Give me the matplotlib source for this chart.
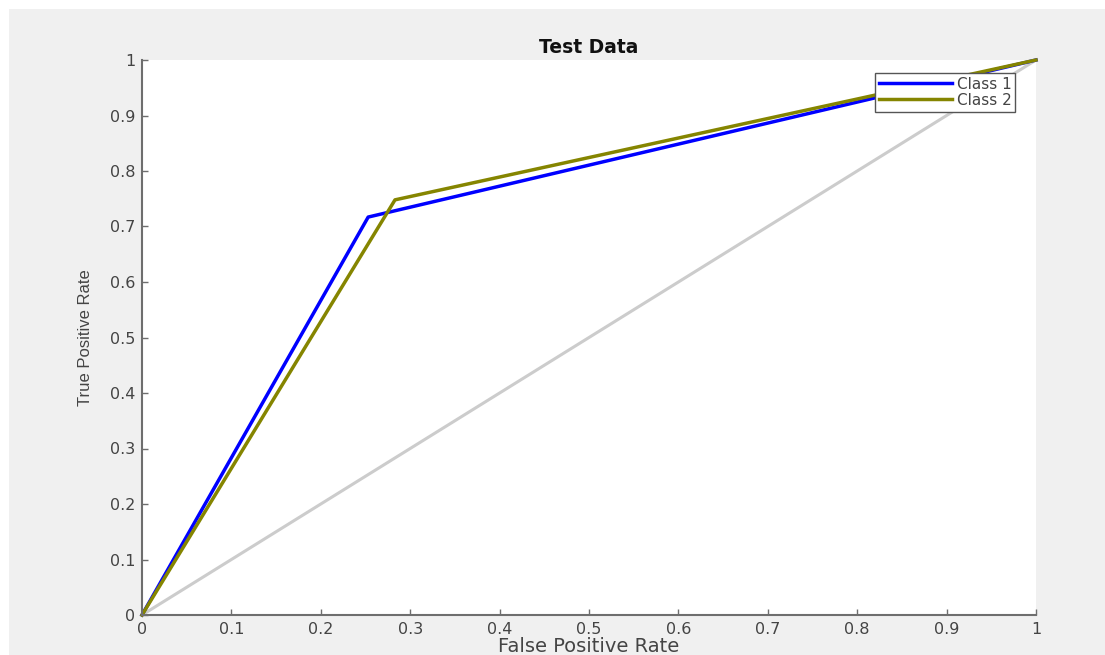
import numpy as np
import matplotlib
matplotlib.use("Agg")
import matplotlib.pyplot as plt
from matplotlib.patches import Rectangle

# ROC points
fpr_class1 = [0.0, 0.253, 1.0]
tpr_class1 = [0.0, 0.717, 1.0]
fpr_class2 = [0.0, 0.283, 1.0]
tpr_class2 = [0.0, 0.748, 1.0]
chance = [0.0, 1.0]
ticks = np.arange(0, 1.01, 0.1)
tick_labels = ["0", "0.1", "0.2", "0.3", "0.4", "0.5", "0.6", "0.7", "0.8", "0.9", "1"]

plt.rcParams['font.family'] = ['DejaVu Sans']

fig = plt.figure(figsize=(11.05, 6.55), dpi=100, facecolor="white")
# grey window area (small white strip top/left)
fig.patches.append(Rectangle((9 / 1105, 0), 1, 1 - 9 / 655, transform=fig.transFigure,
                             facecolor="#f0f0f0", edgecolor="none", zorder=-10))

ax = fig.add_axes([142 / 1105, 40 / 655, 894 / 1105, 555 / 655])
ax.set_facecolor("white")

ax.plot(chance, chance, color="#cccccc", lw=2.2, clip_on=False)
ax.plot(fpr_class1, tpr_class1, color="#0000ff", lw=2.5, label="Class 1", clip_on=False)
ax.plot(fpr_class2, tpr_class2, color="#858500", lw=2.5, label="Class 2", clip_on=False)

ax.set_xlim(0, 1)
ax.set_ylim(0, 1)
ax.set_xticks(ticks)
ax.set_xticklabels(tick_labels)
ax.set_yticks(ticks)
ax.set_yticklabels(tick_labels)

for s in ["top", "right"]:
    ax.spines[s].set_visible(False)
for s in ["left", "bottom"]:
    ax.spines[s].set_color("#6e6e6e")
    ax.spines[s].set_linewidth(1.5)

ax.tick_params(direction="in", length=4, width=1, color="#6e6e6e",
               labelcolor="#444444", labelsize=11.5, pad=5)

ax.set_title("Test Data", fontsize=13.5, fontweight="bold", pad=5, color="#111111")
ax.set_xlabel("False Positive Rate", fontsize=14, color="#444444", labelpad=0)
ax.set_ylabel("True Positive Rate", fontsize=12, color="#444444", labelpad=12,
              family="Liberation Sans")

leg = ax.legend(loc="upper right", bbox_to_anchor=(0.977, 0.977), borderaxespad=0,
                fancybox=False, framealpha=1, edgecolor="#555555", fontsize=11,
                handlelength=4.8, handletextpad=0.3, borderpad=0.25, labelspacing=0.08)
leg.get_frame().set_linewidth(1.0)
for t in leg.get_texts():
    t.set_color("#444444")

fig.savefig("out.png", dpi=100, facecolor=fig.get_facecolor())
